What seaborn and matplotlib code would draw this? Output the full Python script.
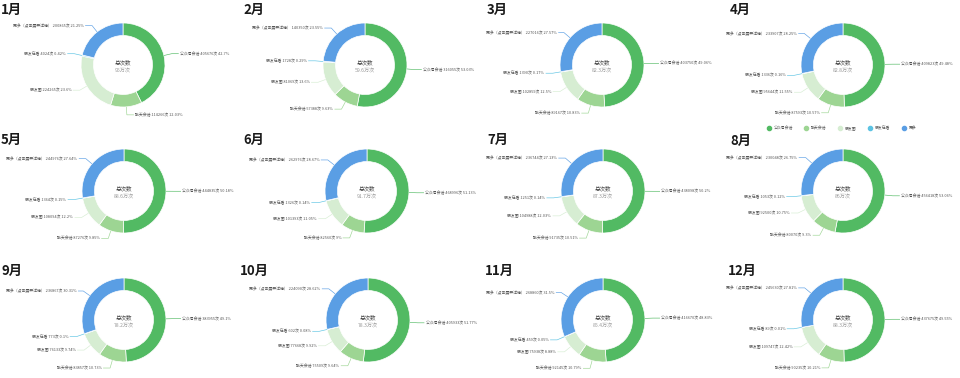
import matplotlib
matplotlib.use('Agg')
import matplotlib.pyplot as plt
import seaborn as sns
import numpy as np
from matplotlib.lines import Line2D

# ---------------- data ----------------
months = ['1月', '2月', '3月', '4月', '5月', '6月', '7月', '8月', '9月', '10月', '11月', '12月']
totals = ['95万次', '59.6万次', '82.3万次', '82.8万次', '88.6万次', '91.7万次',
          '87.3万次', '86万次', '78.2万次', '78.3万次', '85.4万次', '88.3万次']
categories = ['公众号会话', '聊天会话', '朋友圈', '朋友在看', '更多']
label_names = ['公众号会话', '聊天会话', '朋友圈', '朋友在看', '更多（点击展开详情）']

gzh_count = [405676, 316055, 403750, 409823, 444835, 468996, 438098, 456418, 383955, 405933, 416670, 437675]
gzh_pct = ['42.7', '53.03', '49.06', '49.48', '50.18', '51.13', '50.2', '53.06', '49.1', '51.77', '48.83', '49.55']
chat_count = [114266, 57388, 89167, 87593, 87276, 82560, 91735, 80070, 83857, 75509, 92145, 90235]
chat_pct = ['12.03', '9.63', '10.83', '10.57', '9.85', '9', '10.51', '9.3', '10.73', '9.64', '10.79', '10.21']
moments_count = [224265, 81069, 102859, 95644, 108094, 101393, 104988, 92500, 76133, 77668, 75938, 109747]
moments_pct = ['23.6', '13.6', '12.5', '11.55', '12.2', '11.05', '12.03', '10.75', '9.74', '9.92', '8.88', '12.42']
watch_count = [4024, 1728, 1390, 1336, 1364, 1326, 1251, 1053, 773, 602, 459, 89]
watch_pct = ['0.42', '0.29', '0.17', '0.16', '0.15', '0.14', '0.14', '0.12', '0.1', '0.08', '0.05', '0.01']
more_count = [200865, 140350, 227016, 233907, 244976, 262976, 236744, 230048, 236867, 224090, 268860, 245630]
more_pct = ['21.25', '23.55', '27.57', '28.25', '27.64', '28.67', '27.13', '26.75', '30.31', '28.62', '31.5', '27.81']

colors = ['#52BA63', '#9DD593', '#D6EDD2', '#5CC3E3', '#5A9EE4']

# ---------------- style ----------------
sns.set_theme(style='white')
plt.rcParams['font.family'] = ['Noto Sans CJK SC', 'DejaVu Sans']

W, H = 960, 378
fig = plt.figure(figsize=(9.6, 3.78), dpi=100)
ax = fig.add_axes([0, 0, 1, 1])
ax.set_axis_off()

centers = [(123, 65), (365, 65), (602, 65), (843, 65),
           (124, 191), (367, 191), (603, 191), (843, 191),
           (124, 320), (368, 320), (603, 320), (843, 320)]
title_pos = [(1, 10), (243, 10), (487, 10), (730, 10),
             (1, 140), (243, 140), (487, 140), (730, 141),
             (1, 271), (240, 271), (485, 271), (728, 271)]
R = 42
RING = 12.5
L1, L2 = 8, 7
LABEL_FS = 2.8
LABEL_COLOR = '#555555'


def fix_limits():
    ax.set_xlim(0, W)
    ax.set_ylim(0, H)
    ax.set_aspect('auto')


renderer = fig.canvas.get_renderer()

for i in range(12):
    cx, cy_top = centers[i]
    cy = H - cy_top
    vals = [gzh_count[i], chat_count[i], moments_count[i], watch_count[i], more_count[i]]
    pcts = [gzh_pct[i], chat_pct[i], moments_pct[i], watch_pct[i], more_pct[i]]
    wedges, _ = ax.pie(vals, colors=colors, startangle=90, counterclock=False,
                       radius=R, center=(cx, cy),
                       wedgeprops=dict(width=RING, edgecolor='white', linewidth=0.5))
    fix_limits()

    col = i % 4
    px0, px1 = col * 240, col * 240 + 240

    items = []
    for k, w in enumerate(wedges):
        th = np.deg2rad((w.theta1 + w.theta2) / 2.0)
        c, s = np.cos(th), np.sin(th)
        d = 1 if c >= 0 else -1
        p0 = (cx + R * c, cy + R * s)
        p1 = [cx + (R + L1) * c, cy + (R + L1) * s]
        items.append(dict(k=k, d=d, p0=p0, p1=p1))

    for side in (1, -1):
        grp = sorted([it for it in items if it['d'] == side], key=lambda t: -t['p1'][1])
        for j in range(1, len(grp)):
            if grp[j - 1]['p1'][1] - grp[j]['p1'][1] < 6:
                grp[j]['p1'][1] = grp[j - 1]['p1'][1] - 6

    for it in items:
        k, d = it['k'], it['d']
        p0, p1 = it['p0'], it['p1']
        p2x = p1[0] + d * L2
        y = p1[1]
        txt = f"{label_names[k]} {vals[k]}次 {pcts[k]}%"
        t = ax.text(p2x + d * 1.5, y, txt, fontsize=LABEL_FS, color=LABEL_COLOR,
                    ha='left' if d > 0 else 'right', va='center')
        bb = t.get_window_extent(renderer)
        if d < 0 and bb.x0 < px0 + 6:
            shift = px0 + 6 - bb.x0
            p2x += shift
            t.set_x(p2x - 1.5)
        if d > 0 and bb.x1 > px1 - 3:
            shift = bb.x1 - (px1 - 3)
            p2x -= shift
            t.set_x(p2x + 1.5)
        if (d < 0 and p2x > p1[0]) or (d > 0 and p2x < p1[0]):
            xs, ys = [p0[0], p2x], [p0[1], y]
        else:
            xs, ys = [p0[0], p1[0], p2x], [p0[1], p1[1], y]
        ax.plot(xs, ys, color=colors[k], lw=0.45, solid_capstyle='butt')

    ax.text(cx, cy + 3, '总次数', fontsize=4.0, color='#444444', ha='center', va='center')
    ax.text(cx, cy - 6, totals[i], fontsize=3.7, color='#9a9a9a', ha='center', va='center')

    tx, ty = title_pos[i]
    ax.text(tx, H - ty, months[i], fontsize=9.5, fontweight='bold', color='#1a1a1a',
            ha='left', va='center')

fix_limits()

handles = [Line2D([], [], marker='o', linestyle='', color=c, markersize=3.0) for c in colors]
leg = fig.legend(handles, categories, loc='center', bbox_to_anchor=(842 / W, 1 - 127.7 / H),
                 ncol=5, frameon=False, fontsize=2.8, handlelength=0.8, handletextpad=0.85,
                 columnspacing=3.1, borderpad=0)
for t in leg.get_texts():
    t.set_color('#555555')

fig.savefig('out.png', dpi=100)
